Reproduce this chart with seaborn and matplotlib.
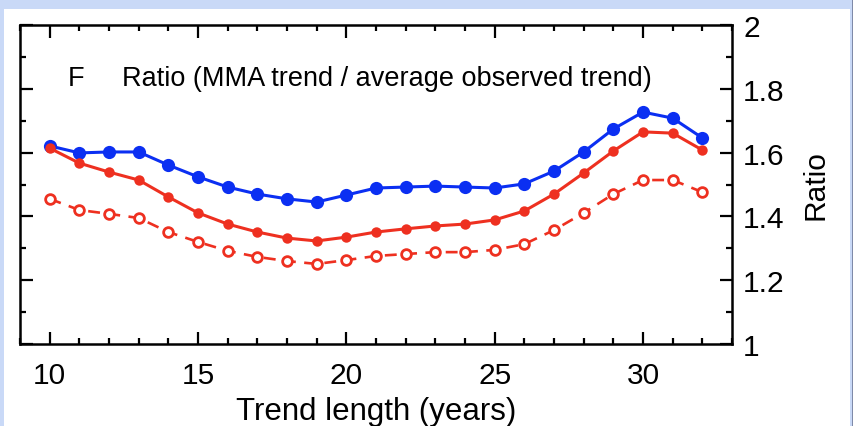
import matplotlib
matplotlib.use("Agg")
import matplotlib.pyplot as plt
import seaborn as sns
import numpy as np
import pandas as pd
from matplotlib.patches import Rectangle
from matplotlib.ticker import MultipleLocator

years = list(range(10, 33))
blue_vals = [1.621, 1.599, 1.602, 1.602, 1.561, 1.524, 1.492, 1.470, 1.455, 1.445,
             1.467, 1.489, 1.492, 1.495, 1.492, 1.489, 1.502, 1.542, 1.602, 1.674,
             1.727, 1.708, 1.646]
red_vals = [1.614, 1.567, 1.539, 1.514, 1.461, 1.411, 1.376, 1.351, 1.332, 1.323,
            1.335, 1.351, 1.361, 1.370, 1.376, 1.389, 1.417, 1.470, 1.536, 1.605,
            1.665, 1.661, 1.608]
red_open_vals = [1.455, 1.420, 1.408, 1.395, 1.351, 1.320, 1.292, 1.273, 1.260, 1.251,
                 1.263, 1.276, 1.282, 1.288, 1.288, 1.295, 1.313, 1.357, 1.411, 1.470,
                 1.514, 1.514, 1.476]
x_ticks = [10, 15, 20, 25, 30]
y_ticks = [1, 1.2, 1.4, 1.6, 1.8, 2]
y_tick_labels = ["1", "1.2", "1.4", "1.6", "1.8", "2"]
panel_letter = "F"
title_text = "Ratio (MMA trend / average observed trend)"
xlabel = "Trend length (years)"
ylabel = "Ratio"

sns.set_theme(style="ticks")
plt.rcParams["font.family"] = ["Liberation Sans", "DejaVu Sans"]
plt.rcParams["text.color"] = "black"
plt.rcParams["axes.labelcolor"] = "black"
plt.rcParams["xtick.color"] = "black"
plt.rcParams["ytick.color"] = "black"
plt.rcParams["xtick.labelcolor"] = "black"
plt.rcParams["ytick.labelcolor"] = "black"

W, H = 854, 427
fig = plt.figure(figsize=(W / 100, H / 100), dpi=100)
fig.patch.set_facecolor("#c9d9f7")
fig.patches.append(Rectangle((4 / W, 0), (850 - 4) / W, (H - 10) / H,
                             transform=fig.transFigure, facecolor="white",
                             edgecolor="none", zorder=-10))
fig.patches.append(Rectangle((852 / W, 0), 2 / W, 1,
                             transform=fig.transFigure, facecolor="#7f8aa8",
                             edgecolor="none", zorder=-10))

L, R, T, B = 20, 732, 26, 345
ax = fig.add_axes([L / W, (H - B) / H, (R - L) / W, (B - T) / H])
ax.set_facecolor("none")

blue = "#0b2ff2"
red = "#ee3020"

df = pd.DataFrame({"year": years, "blue": blue_vals, "red": red_vals, "red_open": red_open_vals})

sns.lineplot(data=df, x="year", y="blue", ax=ax, color=blue, linewidth=2.2,
             marker="o", markersize=9.5, markeredgewidth=0, markerfacecolor=blue, zorder=3)
sns.lineplot(data=df, x="year", y="red", ax=ax, color=red, linewidth=2.2,
             marker="o", markersize=7.5, markeredgewidth=0, markerfacecolor=red, zorder=3)
sns.lineplot(data=df, x="year", y="red_open", ax=ax, color=red, linewidth=1.9,
             dashes=False, zorder=3)
line = ax.lines[-1]
line.set_linestyle((0, (4.5, 3.2)))
line.set_marker("o")
line.set_markersize(7)
line.set_markerfacecolor("white")
line.set_markeredgecolor(red)
line.set_markeredgewidth(2.0)

ax.set_xlim(9, 33)
ax.set_ylim(1, 2)
ax.set_xticks(x_ticks)
ax.xaxis.set_minor_locator(MultipleLocator(1))
ax.set_yticks(y_ticks)
ax.set_yticklabels(y_tick_labels)
ax.yaxis.set_minor_locator(MultipleLocator(0.1))
ax.yaxis.tick_right()
ax.yaxis.set_label_position("right")

ax.tick_params(which="both", direction="in", top=True, bottom=True, left=True, right=True,
               color="black", width=1.6)
ax.tick_params(which="major", length=9, labelsize=21.5, pad=8)
ax.tick_params(axis="x", which="major", pad=12)
ax.tick_params(which="minor", length=4)
for s in ax.spines.values():
    s.set_visible(True)
    s.set_linewidth(1.8)
    s.set_color("black")

ax.set_xlabel(xlabel, fontsize=22.5, labelpad=5)
ax.set_ylabel(ylabel, fontsize=21.5, labelpad=12)

ax.text(0.079, 0.835, panel_letter, transform=ax.transAxes, fontsize=19.5, ha="center", va="center")
ax.text(0.143, 0.835, title_text, transform=ax.transAxes, fontsize=19.5, ha="left", va="center")

fig.savefig("out.png", dpi=100, facecolor=fig.get_facecolor())
